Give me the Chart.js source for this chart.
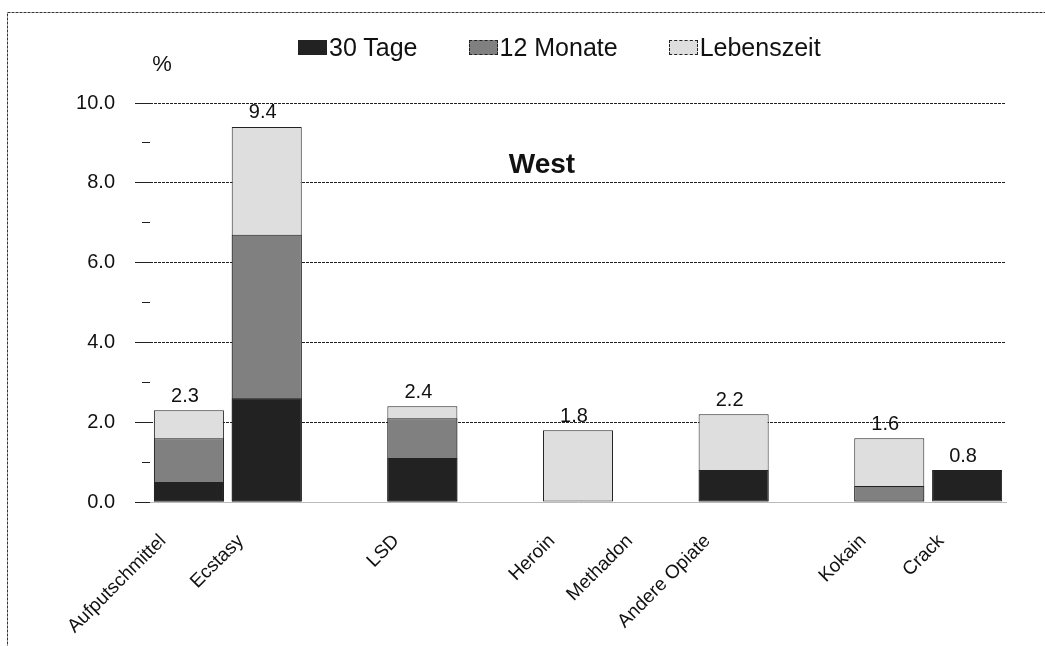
<!DOCTYPE html>
<html lang="de">
<head>
<meta charset="utf-8">
<title>West</title>
<script src="https://cdn.jsdelivr.net/npm/chart.js@4.4.1/dist/chart.umd.min.js"></script>
<style>
  html, body { margin: 0; padding: 0; background: #fff; }
  #wrap { position: relative; width: 1045px; height: 646px; overflow: hidden; }
  #legend {
    position: absolute; left: 298px; top: 33px;
    display: flex; column-gap: 51px;
    font: 25px "Liberation Sans", Arial, sans-serif; color: #111;
  }
  .item { display: flex; align-items: center; }
  .box { width: 27px; height: 13px; border: 1px dashed #222; margin-right: 2px; }
</style>
</head>
<body>
<div id="wrap">
  <canvas id="chart"></canvas>
  <div id="legend"></div>
</div>
<script>
// Kategorien (leere Einträge = Lücken zwischen den Gruppen)
const categories = ['Aufputschmittel', 'Ecstasy', '', 'LSD', '', 'Heroin', 'Methadon', 'Andere Opiate', '', 'Kokain', 'Crack'];

// Prävalenzen in %
const tage30     = [0.5, 2.6, null, 1.1, null, null, null, 0.8, null, null, 0.8];
const monate12   = [1.6, 6.7, null, 2.1, null, null, null, null, null, 0.4, null];
const lebenszeit = [2.3, 9.4, null, 2.4, null, 1.8, null, 2.2, null, 1.6, null];

const seriesNames = ['30 Tage', '12 Monate', 'Lebenszeit'];
const seriesColors = ['#222222', '#808080', '#dedede'];
const yLabels = [0, 2, 4, 6, 8, 10];

const FONT = '"Liberation Sans", Arial, sans-serif';

// Legende en HTML (Kästchen direkt neben dem Text)
const legend = document.getElementById('legend');
seriesNames.forEach((name, i) => {
  const item = document.createElement('div');
  item.className = 'item';
  const box = document.createElement('span');
  box.className = 'box';
  box.style.background = seriesColors[i];
  const txt = document.createElement('span');
  txt.textContent = name;
  item.appendChild(box);
  item.appendChild(txt);
  legend.appendChild(item);
});

// Rahmen, Werte über den Balken, "%" und "West"
const textPlugin = {
  id: 'texte',
  beforeDraw(chart) {
    const ctx = chart.ctx;
    ctx.save();
    ctx.strokeStyle = '#333';
    ctx.lineWidth = 1;
    ctx.setLineDash([3, 1]);
    ctx.strokeRect(7.5, 12.5, 1200, 800);
    ctx.restore();
  },
  afterDatasetsDraw(chart) {
    const ctx = chart.ctx;
    ctx.save();
    ctx.fillStyle = '#111';
    ctx.textAlign = 'center';
    ctx.textBaseline = 'middle';
    ctx.font = '20px ' + FONT;
    categories.forEach((c, i) => {
      let best = -1;
      let val = null;
      chart.data.datasets.forEach((ds, d) => {
        const v = ds.data[i];
        if (v != null && (val === null || v > val)) {
          val = v;
          best = d;
        }
      });
      if (best < 0) return;
      const bar = chart.getDatasetMeta(best).data[i];
      ctx.fillText(val.toFixed(1), bar.x - 4, bar.y - 14);
    });

    ctx.font = '22px ' + FONT;
    ctx.fillText('%', 162, 65);

    ctx.font = 'bold 28px ' + FONT;
    ctx.textBaseline = 'alphabetic';
    ctx.fillText('West', 542, 173);
    ctx.restore();
  }
};

function makeDataset(label, data, color, order) {
  return {
    label: label,
    data: data,
    backgroundColor: color,
    borderColor: '#222',
    borderWidth: 1,
    borderSkipped: false,
    grouped: false,
    order: order,
    barPercentage: 0.9,
    categoryPercentage: 1.0,
  };
}

new Chart(document.getElementById('chart'), {
  type: 'bar',
  data: {
    labels: categories,
    datasets: [
      makeDataset(seriesNames[0], tage30, seriesColors[0], 0),
      makeDataset(seriesNames[1], monate12, seriesColors[1], 1),
      makeDataset(seriesNames[2], lebenszeit, seriesColors[2], 2),
    ]
  },
  options: {
    responsive: true,
    maintainAspectRatio: false,
    animation: false,
    layout: { padding: { left: 0, right: 39, top: 103, bottom: 0 } },
    plugins: {
      legend: { display: false },
      tooltip: { enabled: false },
      title: { display: false }
    },
    scales: {
      x: {
        grid: { display: false },
        border: { display: true, color: '#bbbbbb', dash: [2, 1] },
        ticks: {
          autoSkip: false,
          minRotation: 45,
          maxRotation: 45,
          padding: 20,
          labelOffset: -26,
          color: '#111',
          font: { family: FONT, size: 19 }
        },
        afterFit: (scale) => { scale.height = 144; }
      },
      y: {
        min: 0,
        max: 10,
        grid: {
          color: (c) => (c.tick && c.tick.value > 0 && c.tick.value % 2 === 0) ? '#222' : 'rgba(0,0,0,0)',
          tickColor: '#222',
          tickLength: 15,
          // kleine Zwischenstriche direkt an der Achse
          tickBorderDash: (c) => (c.tick && c.tick.value % 2 === 1) ? [0, 7, 8, 100] : [],
        },
        border: { display: false, dash: [3, 1] },
        ticks: {
          stepSize: 1,
          padding: 20,
          color: '#111',
          font: { family: FONT, size: 20 },
          callback: (v) => yLabels.includes(v) ? v.toFixed(1) : ''
        },
        afterFit: (scale) => { scale.width = 150; }
      }
    }
  },
  plugins: [textPlugin]
});
</script>
</body>
</html>
